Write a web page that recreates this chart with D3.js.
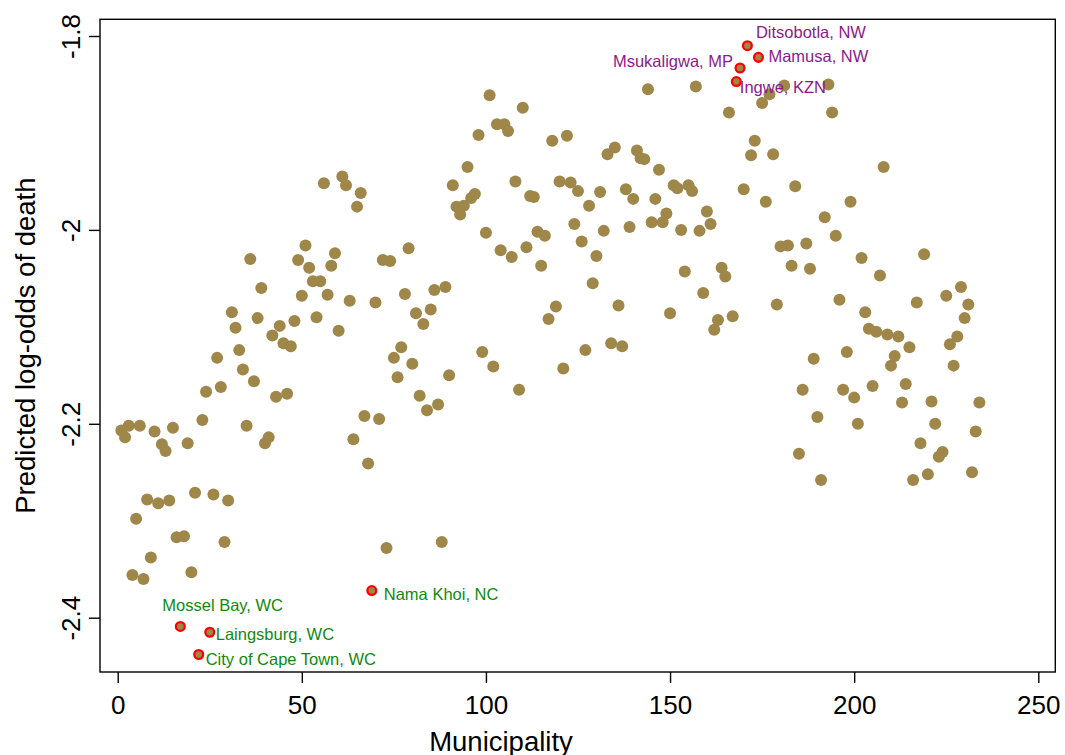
<!DOCTYPE html>
<html>
<head>
<meta charset="utf-8">
<script src="https://cdn.jsdelivr.net/npm/d3@7"></script>
<style>
  body { margin: 0; background: #fff; }
  svg { display: block; font-family: "Liberation Sans", Arial, sans-serif; }
  .axis path, .axis line { stroke: #000; stroke-width: 1.4; }
  .axis text { fill: #000; font-size: 26px; }
</style>
</head>
<body>
<div id="chart"></div>
<script>
/* Predicted log-odds of death by municipality (1..234, in order). */
const logOdds = [
  -2.207, -2.214, -2.202, -2.356, -2.298, -2.202, -2.360, -2.278, -2.338, -2.208,
  -2.282, -2.221, -2.228, -2.279, -2.204, -2.317, -2.409, -2.316, -2.220, -2.353,
  -2.271, -2.438, -2.196, -2.167, -2.415, -2.273, -2.132, -2.162, -2.322, -2.279,
  -2.085, -2.101, -2.124, -2.144, -2.202, -2.030, -2.156, -2.091, -2.060, -2.220,
  -2.214, -2.109, -2.172, -2.099, -2.117, -2.169, -2.120, -2.094, -2.031, -2.068,
  -2.016, -2.039, -2.053, -2.090, -2.053, -1.952, -2.067, -2.037, -2.024, -2.104,
  -1.945, -1.954, -2.073, -2.216, -1.976, -1.962, -2.192, -2.241, -2.372, -2.075,
  -2.195, -2.031, -2.328, -2.032, -2.132, -2.152, -2.121, -2.066, -2.019, -2.138,
  -2.086, -2.171, -2.097, -2.186, -2.082, -2.062, -2.180, -2.322, -2.059, -2.150,
  -1.954, -1.976, -1.984, -1.975, -1.935, -1.967, -1.963, -1.902, -2.126, -2.003,
  -1.861, -2.141, -1.891, -2.021, -1.891, -1.898, -2.028, -1.950, -2.165, -1.874,
  -2.018, -1.965, -1.966, -2.002, -2.037, -2.006, -2.092, -1.908, -2.079, -1.950,
  -2.143, -1.903, -1.951, -1.994, -1.960, -2.012, -2.124, -1.975, -2.055, -2.027,
  -1.961, -2.001, -1.922, -2.117, -1.915, -2.078, -2.120, -1.958, -1.997, -1.968,
  -1.918, -1.926, -1.927, -1.855, -1.992, -1.968, -1.938, -1.992, -1.983, -2.086,
  -1.954, -1.957, -2.000, -2.043, -1.954, -1.960, -1.852, -2.001, -2.065, -1.981,
  -1.994, -2.103, -2.093, -2.039, -2.048, -1.879, -2.089, -1.847, -1.833, -1.958,
  -1.810, -1.923, -1.908, -1.822, -1.869, -1.971, -1.860, -1.922, -2.077, -2.017,
  -1.851, -2.016, -2.037, -1.955, -2.231, -2.165, -2.014, -2.040, -2.133, -2.193,
  -2.258, -1.987, -1.850, -1.879, -2.006, -2.072, -2.165, -2.126, -1.971, -2.173,
  -2.200, -2.029, -2.085, -2.102, -2.161, -2.105, -2.047, -1.935, -2.108, -2.140,
  -2.130, -2.110, -2.178, -2.159, -2.121, -2.258, -2.075, -2.220, -2.025, -2.252,
  -2.177, -2.200, -2.234, -2.229, -2.068, -2.118, -2.140, -2.110, -2.059, -2.091,
  -2.077, -2.250, -2.208, -2.178
];

// Labelled municipalities (ids into logOdds, 1-based)
const highlightIds = [17, 25, 22, 69, 171, 174, 169, 168];
const highlightNames = [
  "Mossel Bay, WC", "Laingsburg, WC", "City of Cape Town, WC", "Nama Khoi, NC",
  "Ditsobotla, NW", "Mamusa, NW", "Msukaligwa, MP", "Ingwe, KZN"
];
const highlightGroup = ["low", "low", "low", "low", "high", "high", "high", "high"];

const xTicks = [0, 50, 100, 150, 200, 250];
const yTicks = [-2.4, -2.2, -2, -1.8];
const yTickLabels = ["-2.4", "-2.2", "-2", "-1.8"];

const COLORS = { dot: "#9e8749", ring: "#ff0000", low: "#0f8a0f", high: "#8b1a8b" };

// label placement relative to its marker: [dx, dy, anchor]
const LABEL_POS = {
  "Mossel Bay, WC": [-18, -15, "start"],
  "Laingsburg, WC": [6, 7.5, "start"],
  "City of Cape Town, WC": [7, 10, "start"],
  "Nama Khoi, NC": [12, 9, "start"],
  "Ditsobotla, NW": [8.5, -7.5, "start"],
  "Mamusa, NW": [10, 5, "start"],
  "Msukaligwa, MP": [-7, -0.5, "end"],
  "Ingwe, KZN": [3.5, 11, "start"]
};

const W = 1065, H = 755;
const frame = { left: 100, right: 1055.3, top: 19.3, bottom: 672 };

const svg = d3.select("#chart").append("svg").attr("width", W).attr("height", H);

const x = d3.scaleLinear().domain([0, 250]).range([117.7, 1038.3]);
const y = d3.scaleLinear().domain([-2.4, -1.8]).range([617.7, 36]);

// plot frame
svg.append("rect")
  .attr("x", frame.left).attr("y", frame.top)
  .attr("width", frame.right - frame.left).attr("height", frame.bottom - frame.top)
  .attr("fill", "none").attr("stroke", "#000").attr("stroke-width", 1.4);

// x axis
svg.append("g").attr("class", "axis")
  .attr("transform", `translate(0,${frame.bottom})`)
  .call(d3.axisBottom(x).tickValues(xTicks).tickSize(11).tickSizeOuter(0).tickPadding(12.5)
    .tickFormat(d3.format("d")))
  .call(g => g.select(".domain").remove());

// y axis (rotated labels, Stata style)
const yAxis = svg.append("g").attr("class", "axis")
  .attr("transform", `translate(${frame.left},0)`)
  .call(d3.axisLeft(y).tickValues(yTicks).tickSize(11).tickSizeOuter(0)
    .tickFormat((d, i) => yTickLabels[i]))
  .call(g => g.select(".domain").remove());
yAxis.selectAll(".tick text")
  .attr("transform", "rotate(-90)")
  .attr("x", 0).attr("y", -20.5).attr("dy", 0)
  .attr("text-anchor", "middle");

// axis titles
svg.append("text")
  .attr("x", 501).attr("y", 751)
  .attr("text-anchor", "middle").attr("font-size", 27.5).attr("fill", "#000")
  .text("Municipality");
svg.append("text")
  .attr("transform", `translate(35,${(frame.top + frame.bottom) / 2}) rotate(-90)`)
  .attr("text-anchor", "middle").attr("font-size", 27.5).attr("fill", "#000")
  .text("Predicted log-odds of death");

// regular points
const points = logOdds.map((v, i) => ({ id: i + 1, v }));
svg.append("g").selectAll("circle")
  .data(points.filter(p => !highlightIds.includes(p.id)))
  .join("circle")
  .attr("cx", p => x(p.id)).attr("cy", p => y(p.v))
  .attr("r", 6).attr("fill", COLORS.dot);

// highlighted points + labels
highlightIds.forEach((id, i) => {
  const cx = x(id), cy = y(logOdds[id - 1]);
  svg.append("circle")
    .attr("cx", cx).attr("cy", cy).attr("r", 4.4)
    .attr("fill", COLORS.dot).attr("stroke", COLORS.ring).attr("stroke-width", 2.3);
  const [dx, dy, anchor] = LABEL_POS[highlightNames[i]];
  svg.append("text")
    .attr("x", cx + dx).attr("y", cy + dy).attr("text-anchor", anchor)
    .attr("font-size", 16.5).attr("fill", COLORS[highlightGroup[i]])
    .text(highlightNames[i]);
});
</script>
</body>
</html>
